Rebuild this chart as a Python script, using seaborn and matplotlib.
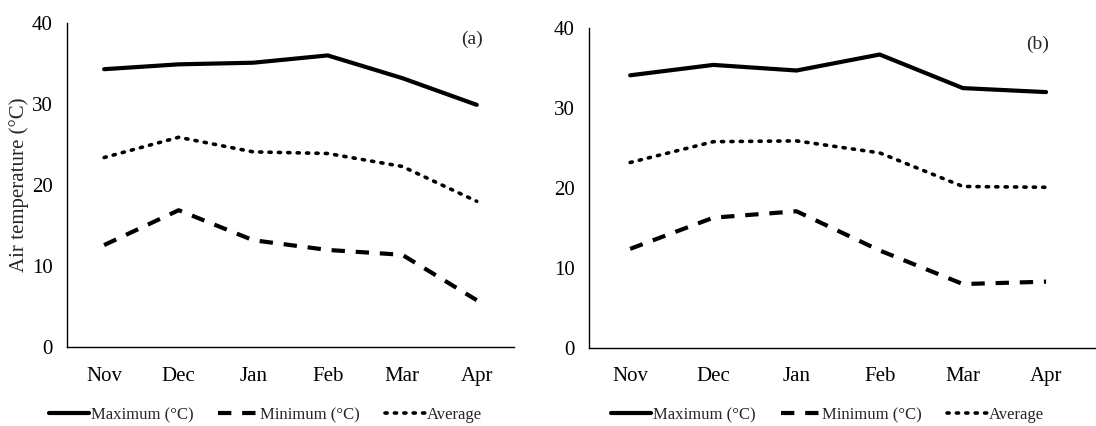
import pandas as pd
import matplotlib.pyplot as plt
import seaborn as sns

# 数据
months = ['Nov', 'Dec', 'Jan', 'Feb', 'Mar', 'Apr']
max_a = [34.3, 34.9, 35.1, 36.0, 33.2, 29.9]
min_a = [12.6, 16.9, 13.2, 12.0, 11.4, 5.8]
avg_a = [23.4, 25.9, 24.1, 23.9, 22.3, 18.0]
max_b = [34.1, 35.4, 34.7, 36.7, 32.5, 32.0]
min_b = [12.4, 16.3, 17.1, 12.2, 8.0, 8.3]
avg_b = [23.2, 25.8, 25.9, 24.4, 20.2, 20.1]
series_names = ['Maximum (°C)', 'Minimum (°C)', 'Average']

sns.set_style('white')
plt.rcParams['font.family'] = ['Liberation Serif', 'DejaVu Serif']

styles = {
    'Maximum (°C)': dict(linestyle='-', lw=3.0),
    'Minimum (°C)': dict(dashes=(3.2, 2.6), lw=3.0),
    'Average': dict(dashes=(0.6, 2.0), lw=2.6, dash_capstyle='round'),
}


def make_df(mx, mn, av):
    rows = []
    for name, vals in zip(series_names, [mx, mn, av]):
        for m, v in zip(months, vals):
            rows.append({'month': m, 'temp': v, 'series': name})
    return pd.DataFrame(rows)


fig = plt.figure(figsize=(10.96, 4.26), dpi=100)
ax_a = fig.add_axes([0.061, 0.185, 0.408, 0.761])
ax_b = fig.add_axes([0.537, 0.183, 0.463, 0.751])

# (轴, 数据, 标签, 标签x, 图例中心x, x上限)
panels = [(ax_a, make_df(max_a, min_a, avg_a), '(a)', 0.905, 0.242, 5.5),
          (ax_b, make_df(max_b, min_b, avg_b), '(b)', 0.884, 0.755, 5.6)]

for ax, df, tag, tag_x, leg_x, xmax in panels:
    handles = []
    for name in series_names:
        sub = df[df['series'] == name]
        sns.lineplot(data=sub, x='month', y='temp', color='black', ax=ax,
                     sort=False, **styles[name])
        handles.append(ax.lines[-1])
    ax.set_ylim(0, 40)
    ax.set_xlim(-0.5, xmax)
    ax.set_yticks([0, 10, 20, 30, 40])
    ax.set_xlabel('')
    ax.set_ylabel('')
    ax.tick_params(axis='both', length=0, labelsize=15, colors='black')
    ax.tick_params(axis='x', pad=14)
    ax.tick_params(axis='y', pad=10)
    for s in ['top', 'right']:
        ax.spines[s].set_visible(False)
    for s in ['left', 'bottom']:
        ax.spines[s].set_color('black')
        ax.spines[s].set_linewidth(1.0)
    ax.text(tag_x, 0.975, tag, transform=ax.transAxes, ha='center', va='top', fontsize=14)
    ax.legend(handles, series_names, loc='center', ncol=3, frameon=False,
              bbox_to_anchor=(leg_x, 0.026), bbox_transform=fig.transFigure,
              fontsize=12, handlelength=2.4, handletextpad=0.1, columnspacing=1.5)

ax_a.set_ylabel('Air temperature (°C)', fontsize=15)
ax_a.yaxis.set_label_coords(-0.085, 0.5)

fig.savefig('out.png', dpi=100)
